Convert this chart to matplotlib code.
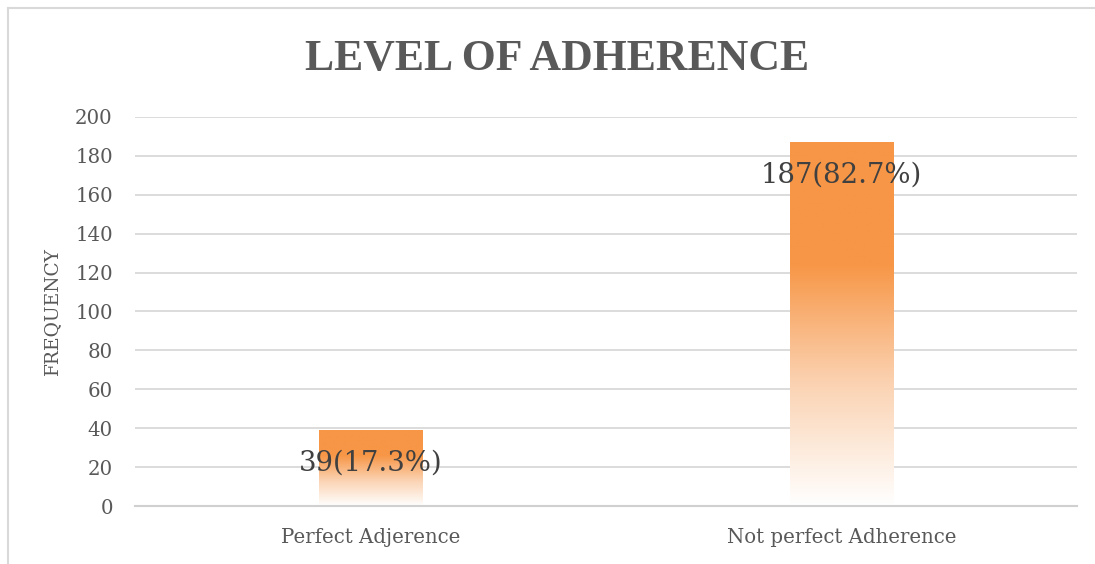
import numpy as np
import matplotlib
matplotlib.use('Agg')
import matplotlib.pyplot as plt
from matplotlib.colors import LinearSegmentedColormap
from matplotlib.lines import Line2D

categories = ['Perfect Adjerence', 'Not perfect Adherence']
counts = [39, 187]
labels = ['39(17.3%)', '187(82.7%)']
yticks = [0, 20, 40, 60, 80, 100, 120, 140, 160, 180, 200]

orange = '#F79646'
grey_text = '#595959'


def main():
    fig = plt.figure(figsize=(10.95, 5.64), dpi=100)
    ax = fig.add_axes([0.1233, 0.1028, 0.8603, 0.6898])

    # chart border (top and left edges only visible)
    bx, by = 8 / 1095, 1 - 8 / 564
    fig.lines.append(Line2D([bx, 1.0], [by, by], transform=fig.transFigure,
                            color='#D9D9D9', linewidth=1.5))
    fig.lines.append(Line2D([bx, bx], [0, by], transform=fig.transFigure,
                            color='#D9D9D9', linewidth=1.5))

    cmap = LinearSegmentedColormap.from_list('fade', ['#FFFFFF', '#FBD3B3', orange, orange],
                                             N=256)
    grad = np.linspace(0, 1, 256).reshape(-1, 1)
    width = 0.22
    x = np.arange(len(categories))
    bars = ax.bar(x, counts, width=width, color='none', edgecolor='none', zorder=3)
    for b in bars:
        x0, y0 = b.get_x(), b.get_y()
        im = ax.imshow(grad, cmap=cmap, origin='lower', aspect='auto',
                       extent=(x0, x0 + b.get_width(), y0, y0 + b.get_height()),
                       zorder=2)
        im.set_clip_path(b)

    for xi, c, lab in zip(x, counts, labels):
        ax.annotate(lab, (xi, c), xytext=(0, -24), textcoords='offset points',
                    ha='center', va='center', fontsize=19.8, color='#404040',
                    family='DejaVu Serif', zorder=4)

    ax.set_xlim(-0.5, 1.5)
    ax.set_ylim(0, 200)
    ax.set_yticks(yticks)
    ax.set_xticks(x)
    ax.set_xticklabels(categories)
    ax.tick_params(length=0, labelsize=14.2, labelcolor=grey_text)
    ax.tick_params(axis='y', pad=16)
    ax.tick_params(axis='x', pad=16)
    for t in ax.get_xticklabels() + ax.get_yticklabels():
        t.set_family('DejaVu Serif')
    ax.grid(axis='y', color='#D9D9D9', linewidth=1.3, zorder=0)
    ax.set_axisbelow(True)
    for s in ['top', 'right', 'left']:
        ax.spines[s].set_visible(False)
    ax.spines['bottom'].set_color('#D0D0D0')
    ax.spines['bottom'].set_linewidth(1.5)

    ax.set_ylabel('FREQUENCY', family='DejaVu Serif', fontsize=13.4,
                  color=grey_text, labelpad=10)

    fig.text(0.509, 0.896, 'LEVEL OF ADHERENCE', ha='center', va='center',
             family='Liberation Serif', fontweight='bold', fontsize=31.5,
             color=grey_text)

    fig.savefig('out.png', dpi=100)


if __name__ == '__main__':
    main()
